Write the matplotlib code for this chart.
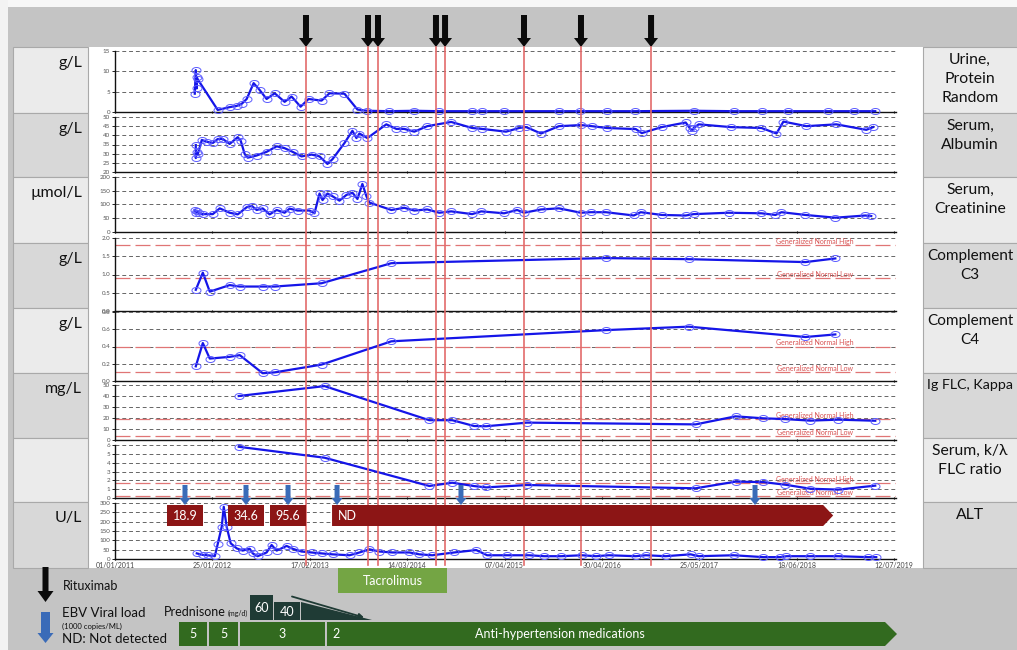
import numpy as np
import pandas as pd
import matplotlib
matplotlib.use("Agg")
import matplotlib.pyplot as plt
from matplotlib.patches import Rectangle, Polygon
from matplotlib.path import Path

plt.rcParams['font.family'] = ['Lato', 'DejaVu Sans']

# ---------------- data (time in decimal years) ----------------
tick_dates = ['01/01/2011', '25/01/2012', '17/02/2013', '14/03/2014', '07/04/2015',
              '30/04/2016', '25/05/2017', '18/06/2018', '12/07/2019']

urine_t = [2011.873, 2011.884, 2011.895, 2011.895, 2011.906, 2012.124, 2012.255, 2012.332, 2012.386, 2012.441,
           2012.517, 2012.583, 2012.659, 2012.747, 2012.856, 2012.932, 2013.031, 2013.118, 2013.260, 2013.347,
           2013.511, 2013.653, 2013.762, 2014.002, 2014.275, 2014.548, 2014.908, 2015.017, 2015.258, 2015.858,
           2016.087, 2016.382, 2016.688, 2017.332, 2017.769, 2018.085, 2018.369, 2018.806, 2019.090, 2019.319]
urine_v = [4.5, 10.3, 5.8, 8.6, 8.0, 0.5, 1.2, 1.5, 2.0, 3.2,
           7.1, 5.4, 3.2, 4.6, 2.5, 3.8, 1.3, 3.2, 2.8, 4.6,
           4.5, 0.6, 0.3, 0.2, 0.3, 0.2, 0.2, 0.2, 0.2, 0.2,
           0.2, 0.2, 0.2, 0.3, 0.2, 0.2, 0.2, 0.2, 0.2, 0.2]

alb_t = [2011.884, 2011.884, 2011.895, 2011.906, 2011.950, 2012.004, 2012.070, 2012.124, 2012.179, 2012.255,
         2012.343, 2012.376, 2012.419, 2012.452, 2012.550, 2012.659, 2012.769, 2012.856, 2012.943, 2013.041,
         2013.151, 2013.238, 2013.325, 2013.380, 2013.511, 2013.598, 2013.642, 2013.675, 2013.762, 2013.969,
         2014.079, 2014.166, 2014.275, 2014.417, 2014.679, 2014.908, 2015.017, 2015.279, 2015.421, 2015.498,
         2015.662, 2015.858, 2016.098, 2016.218, 2016.382, 2016.699, 2016.764, 2016.983, 2017.245, 2017.288,
         2017.310, 2017.332, 2017.387, 2017.736, 2018.074, 2018.238, 2018.314, 2018.566, 2018.893, 2019.221,
         2019.297]
alb_v = [34.7, 27.6, 31, 29.8, 37.5, 36.5, 35.8, 38, 38, 35.3,
         39, 37, 29.8, 27.8, 29, 31, 34, 33, 31, 28.5,
         29.5, 28.5, 24.4, 27, 35.8, 42.5, 38.5, 41, 38.5, 46,
         43.5, 43.5, 42, 45, 47.3, 44, 43.5, 42, 44, 44.5,
         41, 45, 45.6, 45, 44, 43.4, 41.2, 44.5, 47, 44,
         42.5, 44, 46, 44.5, 44, 41, 47.5, 45, 46, 43,
         44.5]

creat_t = [2011.873, 2011.884, 2011.895, 2011.917, 2011.961, 2012.070, 2012.146, 2012.255, 2012.343, 2012.441,
           2012.496, 2012.550, 2012.616, 2012.692, 2012.769, 2012.856, 2012.910, 2012.998, 2013.129, 2013.183,
           2013.238, 2013.271, 2013.325, 2013.380, 2013.456, 2013.533, 2013.598, 2013.653, 2013.707, 2013.751,
           2013.784, 2014.024, 2014.166, 2014.275, 2014.417, 2014.548, 2014.679, 2014.908, 2015.007, 2015.258,
           2015.400, 2015.476, 2015.662, 2015.858, 2016.098, 2016.207, 2016.371, 2016.677, 2016.753, 2016.983,
           2017.245, 2017.332, 2017.714, 2018.074, 2018.227, 2018.293, 2018.555, 2018.882, 2019.210, 2019.275]
creat_v = [80, 70, 78, 68, 65, 65, 86, 70, 64, 90,
           95, 80, 86, 64, 80, 70, 85, 78, 78, 68,
           140, 116, 140, 130, 114, 135, 143, 120, 175, 130,
           107, 80, 88, 78, 82, 70, 75, 65, 75, 68,
           80, 70, 82, 86, 70, 72, 72, 60, 72, 62,
           60, 65, 70, 68, 62, 72, 62, 52, 60, 58]

compl_t = [2011.884, 2011.961, 2012.037, 2012.255, 2012.365, 2012.616, 2012.747, 2013.260, 2014.024,
           2016.371, 2017.277, 2018.555, 2018.882]
c3_v = [0.58, 1.05, 0.53, 0.71, 0.67, 0.67, 0.67, 0.76, 1.31, 1.45, 1.42, 1.34, 1.44]
c4_v = [0.17, 0.44, 0.26, 0.28, 0.30, 0.09, 0.10, 0.19, 0.46, 0.59, 0.63, 0.51, 0.54]

flc_t = [2012.354, 2013.293, 2014.439, 2014.690, 2014.930, 2015.061, 2015.509, 2017.354, 2017.790,
         2018.096, 2018.336, 2018.609, 2018.915, 2019.319]
kappa_v = [40, 49, 18, 18, 12.7, 12.5, 15.8, 14.2, 21.5, 19.7, 19, 17.6, 18.5, 17.5]
ratio_v = [5.8, 4.56, 1.36, 1.73, 1.35, 1.2, 1.47, 1.1, 1.85, 1.8, 1.5, 1.05, 0.95, 1.4]

alt_t = [2011.895, 2011.961, 2012.015, 2012.092, 2012.124, 2012.168, 2012.190, 2012.223, 2012.266, 2012.332,
         2012.397, 2012.474, 2012.507, 2012.561, 2012.659, 2012.714, 2012.769, 2012.878, 2012.943, 2013.041,
         2013.151, 2013.260, 2013.380, 2013.566, 2013.675, 2013.784, 2013.893, 2014.035, 2014.221, 2014.330,
         2014.472, 2014.712, 2014.952, 2015.072, 2015.290, 2015.531, 2015.694, 2015.880, 2016.109, 2016.262,
         2016.404, 2016.699, 2016.808, 2017.026, 2017.299, 2017.387, 2017.769, 2018.096, 2018.282, 2018.347,
         2018.609, 2018.915, 2019.242, 2019.330]
alt_v = [30, 22, 20, 15, 80, 173, 280, 170, 84, 57,
         45, 55, 30, 15, 35, 75, 45, 70, 55, 40,
         35, 30, 25, 20, 35, 52, 40, 35, 35, 25,
         20, 35, 48, 20, 20, 20, 15, 15, 20, 15,
         20, 15, 20, 15, 25, 15, 20, 10, 10, 15,
         15, 15, 10, 10]

rituximab_t = [2013.085, 2013.762, 2013.871, 2014.504, 2014.603, 2015.465, 2016.087, 2016.852]

ebv_t = [2011.764, 2012.430, 2012.889, 2013.424, 2014.777, 2017.987]
ebv_labels = ['18.9', '34.6', '95.6', 'ND', '', '']
ebv_nd_end = 2018.84

tacro_start, tacro_end = 2013.434, 2014.624
pred_doses = ['60', '40']
pred_start = [2012.474, 2012.736]
pred_end = [2012.725, 2013.020]
pred_taper = (2013.031, 2013.806)
htn_labels = ['5', '5', '3', '2']
htn_start = [2011.699, 2012.026, 2012.365, 2013.314]
htn_end = [2012.004, 2012.343, 2013.293, 2019.537]

# ---------------- layout ----------------
W, H = 1017, 650
fig = plt.figure(figsize=(W / 100, H / 100), dpi=100, facecolor='#c4c4c4')


def dec_year(s):
    d = pd.to_datetime(s, dayfirst=True)
    a = pd.Timestamp(d.year, 1, 1)
    b = pd.Timestamp(d.year + 1, 1, 1)
    return d.year + (d - a) / (b - a)


tick_pos = [dec_year(s) for s in tick_dates]
X0, X1 = tick_pos[0], tick_pos[-1]
PX0, PX1 = 115, 896
ppy = (PX1 - PX0) / (X1 - X0)

# background axes in pixel coordinates
bg = fig.add_axes([0, 0, 1, 1])
bg.set_xlim(0, W)
bg.set_ylim(H, 0)
bg.axis('off')
bg.add_patch(Rectangle((0, 0), W, 7, color='#f7f7f7', lw=0))
bg.add_patch(Rectangle((0, 0), 8, H, color='#f3f3f3', lw=0))
bg.add_patch(Rectangle((88, 47), 923 - 88, 568 - 47, color='white', lw=0))

bounds = [47, 113, 177, 243, 308, 373, 438, 502, 568]
units = ['g/L', 'g/L', 'µmol/L', 'g/L', 'g/L', 'mg/L', '', 'U/L']
names = ['Urine,\nProtein\nRandom', 'Serum,\nAlbumin', 'Serum,\nCreatinine', 'Complement\nC3',
         'Complement\nC4', 'Ig FLC, Kappa', 'Serum, k/λ\nFLC ratio', 'ALT']
name_sizes = [11.3, 11.3, 11.3, 11.0, 11.0, 10.3, 11.3, 11.3]
for i in range(8):
    y0, y1 = bounds[i], bounds[i + 1]
    c = '#ebebeb' if i % 2 == 0 else '#d8d8d8'
    bg.add_patch(Rectangle((13, y0), 88 - 13, y1 - y0, facecolor=c, edgecolor='#a9a9a9', lw=0.8))
    bg.add_patch(Rectangle((923, y0), 100, y1 - y0, facecolor=c, edgecolor='#a9a9a9', lw=0.8))
    bg.text(82, y0 + 16, units[i], ha='right', va='center', fontsize=11.5, color='#111')
    bg.text(970, y0 + 6, names[i], ha='center', va='top', fontsize=name_sizes[i], color='#111',
            linespacing=1.45, multialignment='center')


def block_arrow(ax, x, y0, y1, shaft, head, hlen, color, scale):
    hw = shaft / 2 / scale
    hh = head / 2 / scale
    pts = [(x - hw, y0), (x + hw, y0), (x + hw, y1 - hlen), (x + hh, y1 - hlen), (x, y1),
           (x - hh, y1 - hlen), (x - hw, y1 - hlen)]
    ax.add_patch(Polygon(pts, closed=True, facecolor=color, edgecolor='none', clip_on=False))


# legend
block_arrow(bg, 45.5, 567, 602, 6, 16, 11, '#0a0a0a', 1)
bg.text(63, 586, 'Rituximab', ha='left', va='center', fontsize=9, color='#111')
block_arrow(bg, 45.5, 612, 643, 9, 16, 10, '#3a6bb8', 1)
bg.text(62, 613, 'EBV Viral load', ha='left', va='center', fontsize=9.5, color='#111')
bg.text(62, 626, '(1000 copies/ML)', ha='left', va='center', fontsize=5.5, color='#111')
bg.text(62, 639, 'ND: Not detected', ha='left', va='center', fontsize=9.5, color='#111')
bg.text(226, 612, 'Prednisone', ha='right', va='center', fontsize=9, color='#111')
bg.text(248, 613, '(mg/d)', ha='right', va='center', fontsize=5, color='#111')

# ---------------- panels ----------------
ell_t = np.linspace(0, 2 * np.pi, 41)
ELL = Path(np.c_[1.5 * np.cos(ell_t), np.sin(ell_t)])

panels = [
    (urine_t, urine_v, 51, 112, (0, 15), [0, 5, 10, 15], '{:.0f}', []),
    (alb_t, alb_v, 117, 172, (20, 50), [20, 25, 30, 35, 40, 45, 50], '{:.0f}', []),
    (creat_t, creat_v, 177, 232, (0, 200), [0, 50, 100, 150, 200], '{:.0f}', []),
    (compl_t, c3_v, 238, 311, (0, 2), [0, 0.5, 1.0, 1.5, 2.0], '{:.1f}', [1.8, 0.9]),
    (compl_t, c4_v, 312, 381, (0, 0.8), [0, 0.2, 0.4, 0.6, 0.8], '{:.1f}', [0.4, 0.1]),
    (flc_t, kappa_v, 385, 440, (0, 50), [0, 10, 20, 30, 40, 50], '{:.0f}', [19.4, 3.3]),
    (flc_t, ratio_v, 445, 498, (0, 6), [0, 1, 2, 3, 4, 5, 6], '{:.0f}', [1.65, 0.26]),
    (alt_t, alt_v, 503, 559, (0, 300), [0, 50, 100, 150, 200, 250, 300], '{:.0f}', []),
]

for k, (t, v, ytop, ybot, ylim, yt, fmt, normals) in enumerate(panels):
    ax = fig.add_axes([PX0 / W, 1 - ybot / H, (PX1 - PX0) / W, (ybot - ytop) / H])
    ax.patch.set_visible(False)
    ax.set_xlim(X0, X1 + 0.02)
    ax.set_ylim(*ylim)
    for s in ['top', 'right']:
        ax.spines[s].set_visible(False)
    for s in ['left', 'bottom']:
        ax.spines[s].set_color('#111')
        ax.spines[s].set_linewidth(1.0)
    ax.set_yticks(yt)
    ax.set_yticklabels([fmt.format(x) for x in yt])
    ax.set_xticks(tick_pos)
    if k == 7:
        ax.set_xticklabels(tick_dates)
    else:
        ax.set_xticklabels([])
    ax.tick_params(axis='y', labelsize=4.5, length=2.5, width=0.6, pad=1, labelcolor='#555')
    ax.tick_params(axis='x', labelsize=5, length=2, width=0.8, pad=1, direction='inout',
                   labelcolor='#444')
    for y in yt:
        if y != ylim[0]:
            ax.axhline(y, color='#666', lw=0.7, ls=(0, (4, 3)), zorder=1)
    for j, nv in enumerate(normals):
        ax.axhline(nv, color='#e07575', lw=0.9, ls=(0, (12, 4)), zorder=1)
        ax.text(2018.66, nv, 'Generalized Normal ' + ('High' if j == 0 else 'Low'),
                ha='center', va='bottom', fontsize=5, color='#d85050', zorder=2)
    ax.plot(t, v, '-', color='#1515e8', lw=1.6, marker=ELL, ms=6.5, mfc='none',
            mec='#5c5cff', mew=0.7, zorder=3, clip_on=False)

# ---------------- overlay (time x, pixel y) ----------------
ov = fig.add_axes([PX0 / W, 0, (PX1 - PX0) / W, 1])
ov.set_xlim(X0, X1)
ov.set_ylim(H, 0)
ov.axis('off')
ov.patch.set_visible(False)

for d in rituximab_t:
    ov.plot([d, d], [47, 565], color='#e36b6b', lw=1.2, zorder=2, clip_on=False)
    block_arrow(ov, d, 15, 47, 6, 14, 9, '#0a0a0a', ppy)

red = '#8c1515'
for d, lab in zip(ebv_t, ebv_labels):
    block_arrow(ov, d, 485, 505, 5, 11, 7, '#3a6bb8', ppy)
    if lab == 'ND':
        xs = d - 5 / ppy
        xe = ebv_nd_end
        tip = 10 / ppy
        ov.add_patch(Polygon([(xs, 505), (xe - tip, 505), (xe, 515.5), (xe - tip, 526), (xs, 526)],
                             closed=True, facecolor=red, edgecolor='none', zorder=4, clip_on=False))
        ov.text(xs + 6 / ppy, 516, lab, ha='left', va='center', fontsize=9, color='white', zorder=5)
    elif lab:
        w = 36 / ppy
        ov.add_patch(Rectangle((d - w / 2, 505), w, 21, facecolor=red, edgecolor='none', zorder=4,
                               clip_on=False))
        ov.text(d, 516, lab, ha='center', va='center', fontsize=9, color='white', zorder=5)

# tacrolimus
ov.add_patch(Rectangle((tacro_start, 568), tacro_end - tacro_start, 25, facecolor='#74a544',
                       edgecolor='none', clip_on=False))
ov.text((tacro_start + tacro_end) / 2, 581, 'Tacrolimus', ha='center', va='center', fontsize=9,
        color='white')

# prednisone
dark = '#1f3b35'
tops = [595, 602]
for lab, s, e, tp in zip(pred_doses, pred_start, pred_end, tops):
    ov.add_patch(Rectangle((s, tp), e - s, 620 - tp, facecolor=dark, edgecolor='none', clip_on=False))
    ov.text((s + e) / 2, (tp + 620) / 2 + 1, lab, ha='center', va='center', fontsize=9, color='white')
ov.add_patch(Polygon([(pred_taper[0], 602), (pred_taper[0], 620), (pred_taper[1], 620)], closed=True,
                     facecolor=dark, edgecolor='none', clip_on=False))
ov.annotate('', xy=(pred_taper[1] - 8 / ppy, 617.5), xytext=(2012.932, 596.5),
            arrowprops=dict(arrowstyle='-|>', color=dark, lw=1.3, mutation_scale=7,
                            shrinkA=0, shrinkB=0), annotation_clip=False)

# anti-hypertension bar
green = '#326a1f'
for i, (lab, s, e) in enumerate(zip(htn_labels, htn_start, htn_end)):
    if i == len(htn_labels) - 1:
        tip = 12 / ppy
        ov.add_patch(Polygon([(s, 622), (e - tip, 622), (e, 634), (e - tip, 646), (s, 646)],
                             closed=True, facecolor=green, edgecolor='none', clip_on=False))
        ov.text(s + 5 / ppy, 634.5, lab, ha='left', va='center', fontsize=9, color='white')
        ov.text(2015.858, 634.5, 'Anti-hypertension medications', ha='center', va='center',
                fontsize=9, color='white')
    else:
        ov.add_patch(Rectangle((s, 622), e - s, 24, facecolor=green, edgecolor='none', clip_on=False))
        ov.text((s + e) / 2, 634.5, lab, ha='center', va='center', fontsize=9, color='white')

fig.savefig('out.png', dpi=100, facecolor=fig.get_facecolor())
